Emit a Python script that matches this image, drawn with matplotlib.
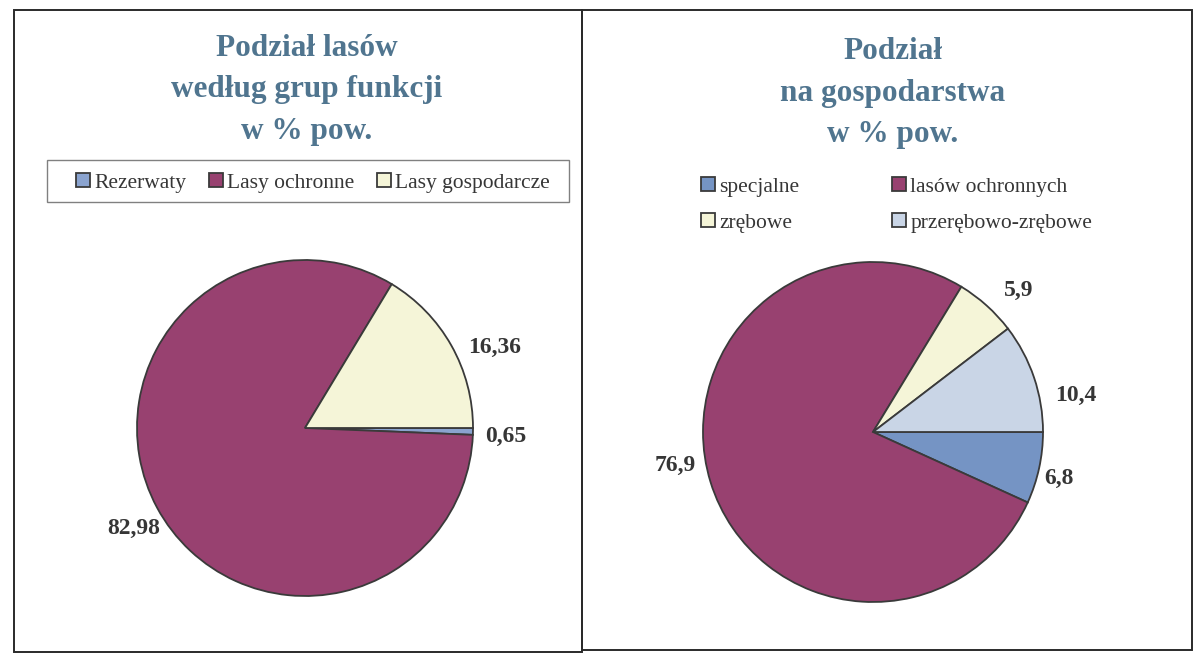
import matplotlib
matplotlib.use("Agg")
import matplotlib.pyplot as plt
from matplotlib.patches import Rectangle

# left chart: forest by function groups
fun_names = ["Rezerwaty", "Lasy ochronne", "Lasy gospodarcze"]
fun_vals = [0.65, 82.98, 16.36]
fun_labels = ["0,65", "82,98", "16,36"]

# right chart: division into management types
gosp_names = ["specjalne", "lasów ochronnych", "zrębowe", "przerębowo-zrębowe"]
gosp_vals = [6.8, 76.9, 5.9, 10.4]
gosp_labels = ["6,8", "76,9", "5,9", "10,4"]

# where the data labels sit (pixel centres, like the hand-placed Excel labels)
fun_lab_pos = [(506, 436), (134, 528), (495, 347)]
gosp_lab_pos = [(1059, 478), (675, 465), (1019, 290), (1076, 395)]

W, H = 1197, 656
fig = plt.figure(figsize=(W / 100, H / 100), dpi=100)
fig.patch.set_facecolor("white")

serif = ["Liberation Serif", "DejaVu Serif"]
title_col = "#50758f"
text_col = "#363636"
edge_col = "#3a3a3a"
magenta = "#984170"
cream = "#f5f5d8"
lblue = "#c9d5e6"
blue = "#7594c4"
rez = "#8aa3cf"


def fx(px):
    return px / W


def fy(py):
    return 1 - py / H


def pie_panel(vals, labels, colors, cx, cy, r, box, lab_pos):
    x0, y0, x1, y1 = box
    ax = fig.add_axes([fx(x0), fy(y1), (x1 - x0) / W, (y1 - y0) / H])
    wedges, texts = ax.pie(vals, colors=colors, labels=labels, startangle=0,
                           counterclock=False, labeldistance=1.1,
                           wedgeprops=dict(edgecolor=edge_col, linewidth=1.3),
                           textprops=dict(fontsize=17, fontweight="bold",
                                          family=serif, color=text_col))
    ax.set_aspect("auto")
    ax.set_xlim((x0 - cx) / r, (x1 - cx) / r)
    ax.set_ylim((cy - y1) / r, (cy - y0) / r)
    ax.axis("off")
    for t, (px, py) in zip(texts, lab_pos):
        t.set_position(((px - cx) / r, (cy - py) / r))
        t.set_ha("center")
        t.set_va("center")
    return ax, wedges, texts


# panel frames + legend box of the left chart
for (a, b, c, d, lw, ec) in [(14, 10, 582, 652, 1.4, "#2a2a2a"),
                             (582, 10, 1192, 650, 1.4, "#2a2a2a"),
                             (47, 160, 569, 202, 1.0, "#808080")]:
    fig.add_artist(Rectangle((fx(a), fy(d)), (c - a) / W, (d - b) / H,
                             transform=fig.transFigure, fill=False,
                             edgecolor=ec, linewidth=lw))

ax1, w1, t1 = pie_panel(fun_vals, fun_labels, [rez, magenta, cream],
                        305, 428, 168, (20, 215, 578, 648), fun_lab_pos)
ax2, w2, t2 = pie_panel(gosp_vals, gosp_labels, [blue, magenta, cream, lblue],
                        873, 432, 170, (588, 245, 1188, 646), gosp_lab_pos)

fig.text(fx(307), fy(90), "Podział lasów\nwedług grup funkcji\nw % pow.",
         ha="center", va="center", fontsize=22.5, fontweight="bold",
         family=serif, color=title_col, linespacing=1.56)
fig.text(fx(893), fy(93), "Podział\nna gospodarstwa\nw % pow.",
         ha="center", va="center", fontsize=22.5, fontweight="bold",
         family=serif, color=title_col, linespacing=1.56)

leg1 = fig.legend(w1, fun_names, ncol=3, loc="center left",
                  bbox_to_anchor=(fx(76), fy(183)),
                  frameon=False, borderaxespad=0, borderpad=0,
                  handlelength=0.65, handleheight=0.65,
                  handletextpad=0.2, columnspacing=1.05,
                  prop=dict(family=serif, size=15.5))
for t in leg1.get_texts():
    t.set_color(text_col)

order = [0, 2, 1, 3]
leg2 = fig.legend([w2[i] for i in order], [gosp_names[i] for i in order],
                  ncol=2, loc="upper left", bbox_to_anchor=(fx(701), fy(177)),
                  frameon=False, handlelength=0.65, handleheight=0.65,
                  handletextpad=0.2, columnspacing=4.3, labelspacing=0.75,
                  borderpad=0, borderaxespad=0,
                  prop=dict(family=serif, size=15.5))
for t in leg2.get_texts():
    t.set_color(text_col)

fig.savefig("out.png", dpi=100, facecolor="white")
